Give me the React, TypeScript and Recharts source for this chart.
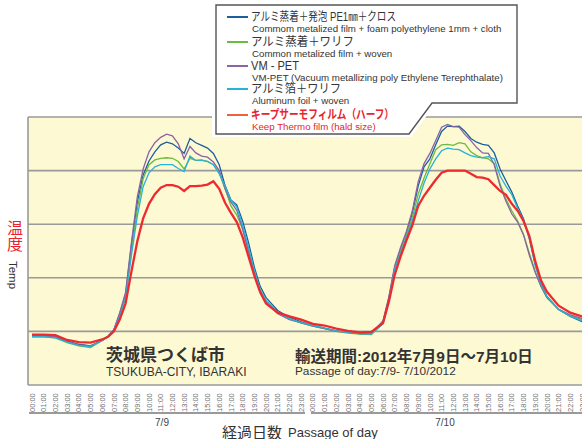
import { LineChart, Line, XAxis, YAxis, CartesianGrid } from "recharts";

const FONT = "'Liberation Sans', Arial, 'Noto Sans CJK JP', sans-serif";

// hour of the two-day run (0 = 7/9 00:00), half-hourly in the daytime
const TIMES = [
  0, 1, 2, 3, 4, 5, 6,
  6.5, 7, 7.5, 8, 8.5, 9, 9.5, 10, 10.5, 11, 11.5, 12, 12.5, 13, 13.5, 14, 14.5, 15, 15.5, 16, 16.5, 17, 17.5, 18, 18.5, 19, 19.5, 20,
  21, 22, 23, 24, 25, 26, 27, 28, 29, 30,
  30.5, 31, 31.5, 32, 32.5, 33, 33.5, 34, 34.5, 35, 35.5, 36, 36.5, 37, 37.5, 38, 38.5, 39, 39.5, 40, 40.5, 41, 41.5, 42, 42.5, 43, 43.5, 44,
  45, 46, 47,
];

const FOAM_PE = [
  19.2, 19.2, 19.0, 18.2, 17.6, 17.3, 18.3,
  19.1, 20.3, 23.3, 26.9, 36.1, 44.1, 49.2, 51.8, 53.5, 54.8, 55.3, 55.0, 54.2, 53.2, 56.0, 55.2, 54.7, 54.2, 53.2, 51.1, 47.2, 44.5, 43.6, 40.6, 36.6, 32.0, 28.4, 26.3,
  23.9, 22.6, 21.8, 21.1, 20.6, 20.1, 19.8, 19.6, 19.6, 21.8,
  26.3, 32.0, 35.3, 38.3, 42.1, 47.1, 50.7, 52.2, 54.8, 57.3, 58.3, 58.2, 58.3, 57.3, 56.0, 55.3, 54.9, 54.7, 53.3, 50.3, 48.1, 46.0, 43.4, 41.0, 37.4, 32.5, 28.9, 26.5,
  24.1, 22.8, 21.8,
];

const METAL_WOVEN = [
  19.0, 19.0, 18.8, 17.9, 17.3, 17.0, 18.3,
  19.1, 20.2, 22.9, 26.5, 35.0, 42.8, 48.5, 51.1, 52.0, 52.3, 52.4, 52.3, 51.7, 50.3, 52.3, 51.9, 51.9, 51.7, 51.1, 49.6, 46.6, 43.4, 41.7, 39.1, 35.1, 31.0, 27.6, 25.6,
  23.5, 22.4, 21.6, 21.0, 20.5, 20.0, 19.7, 19.5, 19.4, 21.6,
  25.9, 32.0, 35.1, 38.1, 41.3, 45.6, 48.6, 51.3, 53.9, 54.8, 54.9, 54.7, 55.2, 55.0, 53.5, 52.8, 52.4, 52.2, 51.3, 47.5, 44.7, 42.5, 40.6, 38.1, 34.6, 31.2, 28.4, 26.3,
  24.1, 22.9, 22.2,
];

const VM_PET = [
  19.2, 19.2, 19.0, 18.1, 17.5, 17.3, 18.3,
  19.1, 20.3, 23.5, 27.3, 36.6, 45.1, 50.3, 53.5, 55.2, 56.2, 56.8, 56.5, 55.0, 52.2, 54.5, 53.3, 52.7, 52.5, 51.6, 50.0, 46.6, 44.1, 42.6, 39.1, 35.0, 30.8, 27.4, 25.4,
  23.3, 22.2, 21.6, 21.0, 20.5, 20.0, 19.8, 19.6, 19.6, 22.0,
  26.5, 32.3, 35.7, 38.7, 42.5, 47.9, 51.3, 53.2, 55.6, 58.1, 58.6, 58.2, 58.1, 56.7, 55.6, 54.3, 53.3, 53.2, 51.1, 47.1, 44.3, 41.9, 40.4, 38.0, 34.2, 31.0, 28.4, 26.3,
  24.1, 23.1, 22.4,
];

const FOIL_WOVEN = [
  19.0, 19.0, 18.8, 18.0, 17.4, 17.1, 18.3,
  19.0, 20.1, 22.8, 26.1, 34.2, 41.5, 47.0, 49.6, 50.7, 51.1, 51.1, 51.1, 50.4, 49.8, 52.7, 51.9, 52.0, 51.7, 51.1, 49.4, 47.1, 44.5, 43.2, 39.8, 35.7, 31.4, 27.8, 25.8,
  23.5, 22.4, 21.6, 21.1, 20.6, 20.1, 19.8, 19.6, 19.5, 21.4,
  25.6, 31.6, 34.6, 37.6, 40.6, 44.3, 47.7, 50.3, 52.2, 53.7, 54.2, 54.0, 53.9, 53.3, 52.8, 52.5, 52.4, 52.6, 52.2, 49.0, 47.1, 45.5, 43.0, 40.8, 37.2, 32.3, 28.8, 26.5,
  24.1, 22.8, 22.0,
];

const KEEP_THERMO = [
  19.4, 19.4, 19.3, 18.4, 18.0, 17.9, 18.5,
  19.0, 20.0, 22.2, 25.2, 31.2, 36.8, 41.1, 43.8, 45.6, 46.8, 47.3, 47.3, 47.0, 46.2, 47.1, 47.1, 47.2, 47.4, 48.0, 46.6, 44.0, 42.1, 40.4, 37.6, 34.0, 30.4, 27.3, 25.2,
  23.5, 22.8, 22.2, 21.4, 21.1, 20.5, 20.1, 19.8, 19.9, 21.6,
  25.6, 30.6, 34.0, 37.0, 39.8, 43.4, 45.3, 46.8, 48.3, 49.6, 50.0, 50.0, 50.0, 50.0, 49.4, 48.8, 48.7, 48.4, 47.3, 46.2, 45.5, 43.8, 42.5, 40.6, 37.8, 33.1, 29.5, 27.4,
  24.8, 23.5, 22.8,
];

const HOURS = [
  "00:00", "01:00", "02:00", "03:00", "04:00", "05:00", "06:00", "07:00",
  "08:00", "09:00", "10:00", "11:00", "12:00", "13:00", "14:00", "15:00",
  "16:00", "17:00", "18:00", "19:00", "20:00", "21:00", "22:00", "23:00",
];
const DAYS = ["7/9", "7/10"];
const Y_TICKS = [10, 20, 30, 40, 50, 60];

const SERIES = [
  { key: "foam", values: FOAM_PE, color: "#1d5e9e", width: 1.3, jp: "アルミ蒸着＋発泡 PE1㎜＋クロス", jpLen: 145, en: "Commom metalized film + foam polyethylene 1mm + cloth" },
  { key: "woven", values: METAL_WOVEN, color: "#6cbb3c", width: 1.3, jp: "アルミ蒸着＋ワリフ", jpLen: 103, en: "Common metalized film + woven" },
  { key: "vmpet", values: VM_PET, color: "#8a64a6", width: 1.3, jp: "VM - PET", jpLen: 48, en: "VM-PET (Vacuum metallizing poly Ethylene Terephthalate)" },
  { key: "foil", values: FOIL_WOVEN, color: "#27b2d6", width: 1.3, jp: "アルミ箔＋ワリフ", jpLen: 90, en: "Aluminum foil + woven" },
  { key: "keep", values: KEEP_THERMO, color: "#ee2a2f", width: 2.3, jp: "キープサーモフィルム（ハーフ）", jpLen: 143, en: "Keep Thermo film (hald size)" },
];

const data = TIMES.map((t, i) => {
  const row: Record<string, number> = { t };
  SERIES.forEach((s) => (row[s.key] = s.values[i]));
  return row;
});

const hourTicks = Array.from({ length: 48 }, (_, i) => i);

function HourTick(props: any) {
  const { x, y, payload } = props;
  const ty = y + 25;
  return (
    <text
      x={x}
      y={ty}
      dy="0.35em"
      transform={`rotate(-90 ${x} ${ty})`}
      textAnchor="start"
      fontSize={7.5}
      fill="#707070"
      fontFamily={FONT}
    >
      {HOURS[payload.value % 24]}
    </text>
  );
}

const legendRows = [17, 42, 66, 89, 115];

export default function App() {
  return (
    <div
      style={{
        position: "fixed",
        left: 0,
        top: 0,
        width: 582,
        height: 439,
        overflow: "hidden",
        background: "#fff",
        fontFamily: FONT,
      }}
    >
      <LineChart
        width={600}
        height={439}
        data={data}
        margin={{ top: 117, right: 14, bottom: 24, left: 28 }}
      >
        <CartesianGrid
          fill="#fdf9d3"
          fillOpacity={1}
          stroke="#9a9a9a"
          strokeWidth={1.6}
          verticalPoints={[28]}
        />
        <XAxis
          dataKey="t"
          type="number"
          domain={[-0.34, 47.34]}
          ticks={hourTicks}
          interval={0}
          tick={<HourTick />}
          tickSize={0}
          axisLine={false}
          tickLine={false}
          height={30}
          allowDataOverflow
        />
        <YAxis hide domain={[10, 60]} ticks={Y_TICKS} />
        {SERIES.map((s) => (
          <Line
            key={s.key}
            dataKey={s.key}
            type="linear"
            stroke={s.color}
            strokeWidth={s.width}
            dot={false}
            isAnimationActive={false}
          />
        ))}
      </LineChart>

      <svg
        width={582}
        height={439}
        style={{ position: "absolute", left: 0, top: 0, pointerEvents: "none" }}
        fontFamily={FONT}
      >
        {/* legend callout */}
        <polygon points="212,1 521,1 521,106 434,106 411,137 212,137" fill="#fff" />
        <polygon
          points="216,5 517,5 517,103 432,103 409,134 216,134"
          fill="#fff"
          stroke="#555"
          strokeWidth={1.4}
        />
        {SERIES.map((s, i) => {
          const cy = legendRows[i];
          const isKeep = s.key === "keep";
          return (
            <g key={s.key}>
              <line x1={227} x2={248} y1={cy} y2={cy} stroke={isKeep ? "#f0603c" : s.color} strokeWidth={2} />
              <text
                x={251}
                y={cy}
                dominantBaseline="central"
                fontSize={12.2}
                fontWeight={isKeep ? "bold" : "normal"}
                fill={isKeep ? "#e8232c" : "#333"}
                textLength={s.jpLen}
                lengthAdjust="spacingAndGlyphs"
              >
                {s.jp}
              </text>
              <text
                x={252}
                y={cy + 11.5}
                dominantBaseline="central"
                fontSize={9.7}
                fill={isKeep ? "#e8232c" : "#333"}
              >
                {s.en}
              </text>
            </g>
          );
        })}

        {/* notes inside the plot */}
        <text x={106} y={355} dominantBaseline="central" fontSize={17} fontWeight="bold" fill="#333">
          茨城県つくば市
        </text>
        <text x={106} y={372} dominantBaseline="central" fontSize={12} fill="#333">
          TSUKUBA-CITY, IBARAKI
        </text>
        <text x={295} y={356} dominantBaseline="central" fontSize={15.5} fontWeight="bold" fill="#333">
          輸送期間:2012年7月9日〜7月10日
        </text>
        <text x={295} y={371} dominantBaseline="central" fontSize={11.8} fill="#333">
          Passage of day:7/9- 7/10/2012
        </text>

        {/* day brackets */}
        <line x1={29} x2={305} y1={413} y2={413} stroke="#9a9a9a" strokeWidth={2} />
        <line x1={311} x2={590} y1={413} y2={413} stroke="#9a9a9a" strokeWidth={2} />
        <text x={162} y={422} dominantBaseline="central" textAnchor="middle" fontSize={10} fill="#444">
          {DAYS[0]}
        </text>
        <text x={445} y={422} dominantBaseline="central" textAnchor="middle" fontSize={10} fill="#444">
          {DAYS[1]}
        </text>
        <text x={222} y={432} dominantBaseline="central" fill="#333">
          <tspan fontSize={15}>経過日数</tspan>
          <tspan fontSize={13} dx={6}>Passage of day</tspan>
        </text>

        {/* y axis title */}
        <text x={15} y={228} dominantBaseline="central" textAnchor="middle" fontSize={16} fill="#e8232c">
          温
        </text>
        <text x={15} y={244} dominantBaseline="central" textAnchor="middle" fontSize={16} fill="#e8232c">
          度
        </text>
        <text
          x={13}
          y={275}
          dominantBaseline="central"
          textAnchor="middle"
          fontSize={11.5}
          fill="#333"
          transform="rotate(90 13 275)"
        >
          Temp
        </text>
      </svg>
    </div>
  );
}
